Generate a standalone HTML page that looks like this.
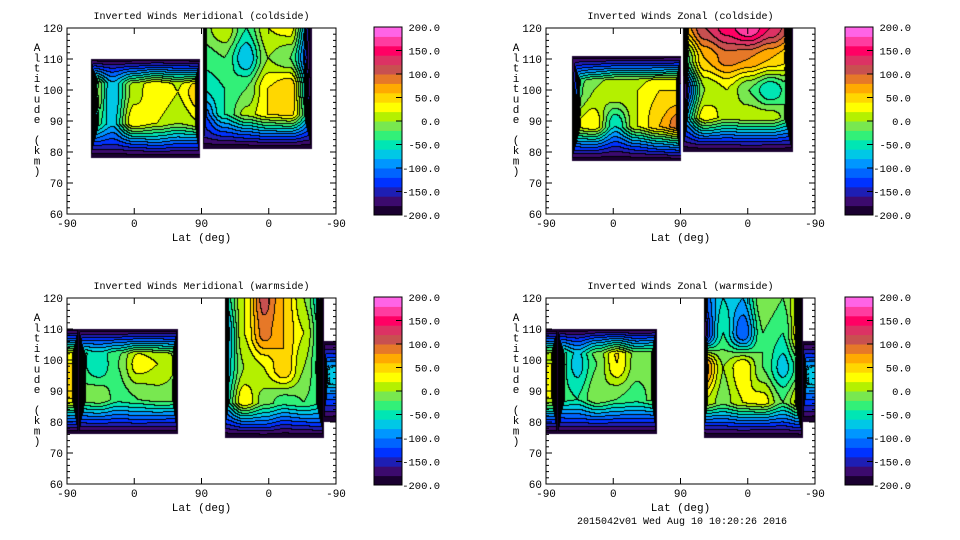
<!DOCTYPE html>
<html><head><meta charset="utf-8">
<style>
html,body{margin:0;padding:0;background:#fff;}
#root{position:relative;width:960px;height:540px;overflow:hidden;font-family:"Liberation Mono",monospace;}
canvas{position:absolute;}
svg{position:absolute;left:0;top:0;}
</style></head>
<body>
<div id="root">
<svg id="ov" width="960" height="540"></svg>
</div>
<script>
// ---------- data ----------
const colorLevels = [-200,-180,-160,-140,-120,-100,-80,-60,-40,-20,0,20,40,60,80,100,120,140,160,180];
const levelColors = ["#1a0030","#3c0a6e","#1e1eb4","#0032ff","#0064ff","#0096ff","#00c8e6","#00e6b4","#32f078","#78e850","#b4f000","#ffff00","#ffd700","#ffaa00","#e67828","#c85050","#dc3264","#ff0064","#ff3ca0","#ff64e6"];
const colorbarTicks = [200,150,100,50,0,-50,-100,-150,-200];
const yTicks = [120,110,100,90,80,70,60];
const xTickPos = [0,90,180,270,360];
const xTickLabels = ["-90","0","90","0","-90"];
const panelTitles = ["Inverted Winds Meridional (coldside)","Inverted Winds Zonal (coldside)","Inverted Winds Meridional (warmside)","Inverted Winds Zonal (warmside)"];

// blob grids: rows bottom->top, cols left->right (wind, m/s)
const tlLeftGrid = [[-40,-40,-20,20,-10,-20],[-10,-70,40,20,0,20],[50,-80,10,40,20,60],[0,-40,-10,20,0,-20]];
const tlRightGrid = [[-60,-30,-10,20,20,-40],[-120,-40,10,40,50,-60],[-60,-40,-20,40,60,-100],[-30,-20,-80,0,-20,-140],[-10,20,-40,20,30,-120]];
const trLeftGrid = [[-20,-20,-60,-20,20,40],[20,40,-60,20,60,100],[-40,0,20,20,40,40],[-60,-40,-20,-20,-20,-10]];
const trRightGrid = [[-60,0,-10,10,0,-20],[-80,40,10,20,20,-20],[-150,0,20,-20,-60,-20],[-40,60,90,80,60,40],[60,120,150,180,140,100]];
const blSliverGrid = [[0,0],[40,40],[40,40],[0,0]];
const blLeftGrid = [[-20,-10,-20,-10,-20,-30],[-10,0,-30,-20,-10,-10],[-30,-60,-20,30,20,0],[-30,-30,-30,-20,-20,-20]];
const blRightGrid = [[-40,0,20,-40,-20,10],[-60,40,-10,-30,-20,-40],[-80,0,20,60,0,-60],[-100,20,90,60,20,-60],[-60,20,110,60,0,-80]];
const blRSliverGrid = [[-60,-60],[-80,-80],[-80,-80],[-80,-80]];
const brSliverGrid = [[-20,-20],[20,20],[20,20],[-20,-20]];
const brLeftGrid = [[-30,-20,-10,-20,-20,-30],[-30,-40,0,-20,-30,-10],[-20,-70,-20,40,-10,-10],[-10,-40,20,50,0,20]];
const brRightGrid = [[-40,-20,-10,-20,-20,20],[20,-10,20,30,-20,40],[100,0,40,-20,-70,-20],[-150,-40,-120,-20,-40,60],[-120,-60,-80,0,-20,40]];
const brRSliverGrid = [[-60,-60],[-80,-80],[-80,-80],[-80,-80]];

// blob extents in (u: 0..360 axis units, altitude km), top capped flag, side widths
const tlBlobs = [
 {grid:tlLeftGrid,u0:32,u1:178,a0:78,a1:110,cap:true,wl:12,wr:6},
 {grid:tlRightGrid,u0:182,u1:328,a0:81,a1:120,cap:false,wl:6,wr:10}];
const trBlobs = [
 {grid:trLeftGrid,u0:35,u1:181,a0:77,a1:111,cap:true,wl:12,wr:6},
 {grid:trRightGrid,u0:184,u1:330,a0:80,a1:120,cap:false,wl:7,wr:10}];
const blBlobs = [
 {grid:blSliverGrid,u0:0,u1:16,a0:76,a1:110,cap:true,wl:1,wr:8},
 {grid:blLeftGrid,u0:16,u1:148,a0:76,a1:110,cap:true,wl:10,wr:6},
 {grid:blRightGrid,u0:211,u1:344,a0:75,a1:120,cap:false,wl:6,wr:10},
 {grid:blRSliverGrid,u0:344,u1:360,a0:80,a1:106,cap:true,wl:5,wr:0}];
const brBlobs = [
 {grid:brSliverGrid,u0:0,u1:16,a0:76,a1:110,cap:true,wl:1,wr:8},
 {grid:brLeftGrid,u0:16,u1:148,a0:76,a1:110,cap:true,wl:10,wr:6},
 {grid:brRightGrid,u0:211,u1:344,a0:75,a1:120,cap:false,wl:6,wr:10},
 {grid:brRSliverGrid,u0:344,u1:360,a0:80,a1:106,cap:true,wl:5,wr:0}];

const panels = [
 {x0:67,y0:28,cb:374,blobs:tlBlobs,title:panelTitles[0],name:"meridional-coldside"},
 {x0:546,y0:28,cb:845,blobs:trBlobs,title:panelTitles[1],name:"zonal-coldside"},
 {x0:67,y0:298,cb:374,blobs:blBlobs,title:panelTitles[2],name:"meridional-warmside"},
 {x0:546,y0:298,cb:845,blobs:brBlobs,title:panelTitles[3],name:"zonal-warmside"}];

// ---------- rendering ----------
const PW=269, PH=186, CBW=28, CBH=188;
const NS="http://www.w3.org/2000/svg";
const ov=document.getElementById('ov');
const root=document.getElementById('root');
function xs(u){return u/360*PW;}
function ys(a){return (120-a)/60*PH;}
function mk(tag,attrs,parent){const e=document.createElementNS(NS,tag);for(const k in attrs)e.setAttribute(k,attrs[k]);(parent||ov).appendChild(e);return e;}
function txt(x,y,s,size,anchor,name){const t=mk('text',{x:x,y:y,'font-size':size,'text-anchor':anchor||'middle','font-family':'"Liberation Mono",monospace',fill:'#000'});t.textContent=s;


return t;}
function bil(g,s,t){const R=g.length,C=g[0].length;let fy=t*(R-1),fx=s*(C-1);let r=Math.min(R-2,Math.max(0,Math.floor(fy))),c=Math.min(C-2,Math.max(0,Math.floor(fx)));
 let dy=Math.min(1,Math.max(0,fy-r)),dx=Math.min(1,Math.max(0,fx-c));
 dy=dy*dy*(3-2*dy);dx=dx*dx*(3-2*dx);
 return g[r][c]*(1-dx)*(1-dy)+g[r][c+1]*dx*(1-dy)+g[r+1][c]*(1-dx)*dy+g[r+1][c+1]*dx*dy;}
function ramp(d,w){return w>0?Math.max(0,1-d/w):0;}
function field(blobs,u,a){
 for(const b of blobs){
  if(u<b.u0||u>b.u1||a<b.a0||a>b.a1)continue;
  const s=(u-b.u0)/(b.u1-b.u0),t=(a-b.a0)/(b.a1-b.a0);
  let v=bil(b.grid,s,t);
  const fb=ramp(a-b.a0,11), ft=b.cap?ramp(b.a1-a,8):0;
  const fl=ramp(u-b.u0,b.wl), fr=ramp(b.u1-u,b.wr);
  const f=Math.max(fb,ft,fl,fr);
  v=v+(-199-v)*f;
  return v;
 }
 return null;
}
function hex(c){return [parseInt(c.substr(1,2),16),parseInt(c.substr(3,2),16),parseInt(c.substr(5,2),16)];}
const rgb=levelColors.map(hex);
function lev(v){let L=Math.floor((v-colorLevels[0])/20);return Math.max(0,Math.min(colorLevels.length-1,L));}

panels.forEach((p,pi)=>{
 const cv=document.createElement('canvas');cv.width=PW;cv.height=PH;
 cv.style.left=p.x0+'px';cv.style.top=p.y0+'px';
 
 
 root.insertBefore(cv,ov);
 const ctx=cv.getContext('2d');const img=ctx.createImageData(PW,PH);
 const L=new Int16Array(PW*PH).fill(-99);
 for(let j=0;j<PH;j++)for(let i=0;i<PW;i++){
  const u=(i+0.5)/PW*360,a=120-(j+0.5)/PH*60;
  const v=field(p.blobs,u,a);
  if(v===null)continue;
  L[j*PW+i]=lev(v);
 }
 for(let j=0;j<PH;j++)for(let i=0;i<PW;i++){
  const k=j*PW+i,l=L[k];const o=k*4;
  if(l===-99){img.data[o]=255;img.data[o+1]=255;img.data[o+2]=255;img.data[o+3]=255;continue;}
  let c=rgb[l];
  const r=i<PW-1?L[k+1]:-99,d=j<PH-1?L[k+PW]:-99;
  if((r>=0&&r!==l)||(d>=0&&d!==l))c=[0,0,0];
  img.data[o]=c[0];img.data[o+1]=c[1];img.data[o+2]=c[2];img.data[o+3]=255;
 }
 ctx.putImageData(img,0,0);

 const g=mk('g',{transform:`translate(${p.x0},${p.y0})`});
 
 
 mk('rect',{x:0,y:0,width:PW,height:PH,fill:'none',stroke:'#000','stroke-width':1},g);
 for(let a=60;a<=120;a+=2){const y=ys(a);const major=a%10===0;const len=major?6:3;
  mk('line',{x1:0,y1:y,x2:len,y2:y,stroke:'#000','stroke-width':1},g);
  mk('line',{x1:PW-len,y1:y,x2:PW,y2:y,stroke:'#000','stroke-width':1},g);}
 xTickPos.forEach(u=>{const x=xs(u);mk('line',{x1:x,y1:PH,x2:x,y2:PH-6,stroke:'#000'},g);mk('line',{x1:x,y1:0,x2:x,y2:6,stroke:'#000'},g);});
 yTicks.forEach(a=>txt(p.x0-4,p.y0+ys(a)+4,String(a),11,'end','y-tick-label'));
 xTickPos.forEach((u,i)=>txt(p.x0+xs(u),p.y0+PH+13,xTickLabels[i],11,'middle','x-tick-label'));
 txt(p.x0+PW/2,p.y0-9,p.title,10,'middle','panel-title');
 txt(p.x0+PW/2,p.y0+PH+27,"Lat (deg)",11,'middle','x-axis-title');
 const yt="Altitude (km)";
 for(let c=0;c<yt.length;c++){if(yt[c]!==' ')txt(p.x0-30,p.y0+23+c*10.3,yt[c],11,'middle','y-axis-title');}

 const cb=mk('g',{transform:`translate(${p.cb},${p.y0-1})`});
 
 
 const bh=CBH/colorLevels.length;
 colorLevels.forEach((lv,i)=>{const y=CBH-(lv+200)/400*CBH-bh;const r=mk('rect',{x:0,y:y,width:CBW,height:bh+0.5,fill:levelColors[i]},cb);
  
  });
 mk('rect',{x:0,y:0,width:CBW,height:CBH,fill:'none',stroke:'#000'},cb);
 colorbarTicks.forEach(v=>{const y=CBH-(v+200)/400*CBH;mk('line',{x1:CBW-6,y1:y,x2:CBW,y2:y,stroke:'#000'},cb);
  txt(p.cb+66,p.y0-1+y+4,v.toFixed(1),10.5,'end','colorbar-label');});
});
txt(682,524,"2015042v01 Wed Aug 10 10:20:26 2016",10,'middle','timestamp-footer');
</script>
</body></html>
